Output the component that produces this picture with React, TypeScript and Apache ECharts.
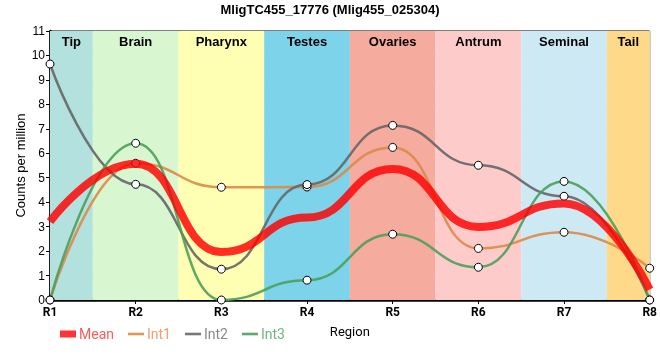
import React, { useEffect, useRef } from "react";
import * as echarts from "echarts";

const categories = ["R1", "R2", "R3", "R4", "R5", "R6", "R7", "R8"];
const meanValues = [3.2, 5.57, 1.96, 3.37, 5.36, 2.99, 3.95, 0.43];
const int1Values = [0, 5.59, 4.61, 4.62, 6.24, 2.11, 2.77, 1.3];
const int2Values = [9.65, 4.73, 1.26, 4.72, 7.14, 5.51, 4.24, 0];
const int3Values = [0, 6.41, 0, 0.81, 2.69, 1.34, 4.85, 0];
const seriesNames = ["Mean", "Int1", "Int2", "Int3"];
const legendIconColors = ["#ff3333", "#e0955a", "#777777", "#5ea86c"];
const legendTextColors = ["#ff5a5a", "#eda06a", "#888888", "#72b480"];
const regionNames = ["Tip", "Brain", "Pharynx", "Testes", "Ovaries", "Antrum", "Seminal", "Tail"];
const regionStarts = [0, 0.5, 1.5, 2.5, 3.5, 4.5, 5.5, 6.5];
const regionEnds = [0.5, 1.5, 2.5, 3.5, 4.5, 5.5, 6.5, 7];
const regionColors = ["#b3e1de", "#d8f6d0", "#ffffb4", "#7dd3ea", "#f5ab9e", "#fecbcb", "#cdeaf4", "#fed98a"];
const yTicks = [0, 1, 2, 3, 4, 5, 6, 7, 8, 9, 10, 11];

const toPts = (vals: number[]) => vals.map((v, i) => [i, v]);

export default function App() {
  const ref = useRef<HTMLDivElement>(null);
  useEffect(() => {
    if (!ref.current) return;
    const chart = echarts.init(ref.current, undefined, { renderer: "svg" });
    const lineSeries = (name: string, vals: number[], color: string) => ({
      name,
      type: "line",
      data: toPts(vals),
      smooth: 0.5,
      smoothMonotone: "x",
      symbol: "circle",
      symbolSize: 8,
      showSymbol: true,
      lineStyle: { color, width: 2.5, opacity: 0.9 },
      itemStyle: { color: "#ffffff", borderColor: "#000", borderWidth: 1 },
      z: 3,
    });
    const rectIcon = "path://M0 0H16V7H0Z";
    const lineIcon = "path://M0 0H16V2.6H0Z";
    // empty bar series listed first so the legend draws plain icons for each name
    const legendKeys = seriesNames.map((n, i) => ({
      name: n,
      type: "bar",
      data: [],
      itemStyle: { color: legendIconColors[i] },
    }));
    chart.setOption({
      animation: false,
      title: {
        text: "MligTC455_17776 (Mlig455_025304)",
        left: "center",
        top: -2,
        textStyle: { fontFamily: "Liberation Sans", fontSize: 13, fontWeight: "bold", color: "#000" },
      },
      grid: {
        left: 50,
        right: 9,
        top: 31,
        bottom: 60,
        show: true,
        borderColor: "#000",
        borderWidth: 1,
        backgroundColor: "transparent",
      },
      legend: {
        left: 55,
        top: 322,
        itemWidth: 16,
        itemHeight: 7,
        itemGap: 14,
        textStyle: { fontFamily: "Roboto", fontSize: 14, padding: [0, 0, 0, -2] },
        data: seriesNames.map((n, i) => ({
          name: n,
          icon: i === 0 ? rectIcon : lineIcon,
          itemStyle: { color: legendIconColors[i], borderWidth: 0 },
          textStyle: { color: legendTextColors[i] },
        })),
      },
      xAxis: {
        type: "value",
        min: 0,
        max: 7,
        interval: 1,
        name: "Region",
        nameLocation: "middle",
        nameGap: 25,
        nameMoveOverlap: false,
        nameTextStyle: { fontFamily: "Roboto", fontSize: 13, color: "#000" },
        axisLine: { lineStyle: { color: "#000", width: 2.5 } },
        axisTick: { show: true, length: 4, lineStyle: { color: "#000" } },
        axisLabel: {
          formatter: (v: number) => categories[Math.round(v)] ?? "",
          fontFamily: "Roboto",
          fontWeight: "bold",
          fontSize: 12,
          color: "#000",
          margin: 6,
        },
        splitLine: { show: true, lineStyle: { color: "#cccccc", width: 1 } },
      },
      yAxis: {
        type: "value",
        min: yTicks[0],
        max: yTicks[yTicks.length - 1],
        interval: 1,
        name: "Counts per million",
        nameLocation: "middle",
        nameGap: 23,
        nameMoveOverlap: false,
        nameTextStyle: { fontFamily: "Liberation Sans", fontSize: 13, color: "#000" },
        axisLine: { show: true, lineStyle: { color: "#000", width: 2.5 } },
        axisTick: { show: true, length: 4, lineStyle: { color: "#000" } },
        axisLabel: { fontFamily: "Liberation Sans", fontSize: 12, color: "#000", margin: 5 },
        splitLine: { show: true, lineStyle: { color: "#cccccc", width: 1 } },
      },
      series: [
        ...legendKeys,
        {
          name: "bands",
          type: "line",
          data: [],
          z: -1,
          silent: true,
          markArea: {
            silent: true,
            label: {
              show: true,
              position: "insideTop",
              distance: 4,
              fontFamily: "Liberation Sans",
              fontWeight: "bold",
              fontSize: 13,
              color: "#000",
            },
            data: regionNames.map((n, i) => [
              { name: n, xAxis: regionStarts[i], yAxis: 11, itemStyle: { color: regionColors[i], opacity: 1 } },
              { xAxis: regionEnds[i], yAxis: 0 },
            ]),
          },
        },
        lineSeries("Int1", int1Values, "#dd8a48"),
        lineSeries("Int2", int2Values, "#666666"),
        lineSeries("Int3", int3Values, "#4c9e5c"),
        {
          name: "Mean",
          type: "line",
          data: toPts(meanValues),
          smooth: 0.5,
          smoothMonotone: "x",
          showSymbol: false,
          symbol: "none",
          lineStyle: { color: "#ff0000", width: 8, opacity: 0.82 },
          itemStyle: { color: "#ff3333" },
          z: 4,
        },
      ],
    });
    return () => chart.dispose();
  }, []);
  return (
    <div
      ref={ref}
      style={{ position: "fixed", left: 0, top: 0, width: 660, height: 360 }}
    />
  );
}
